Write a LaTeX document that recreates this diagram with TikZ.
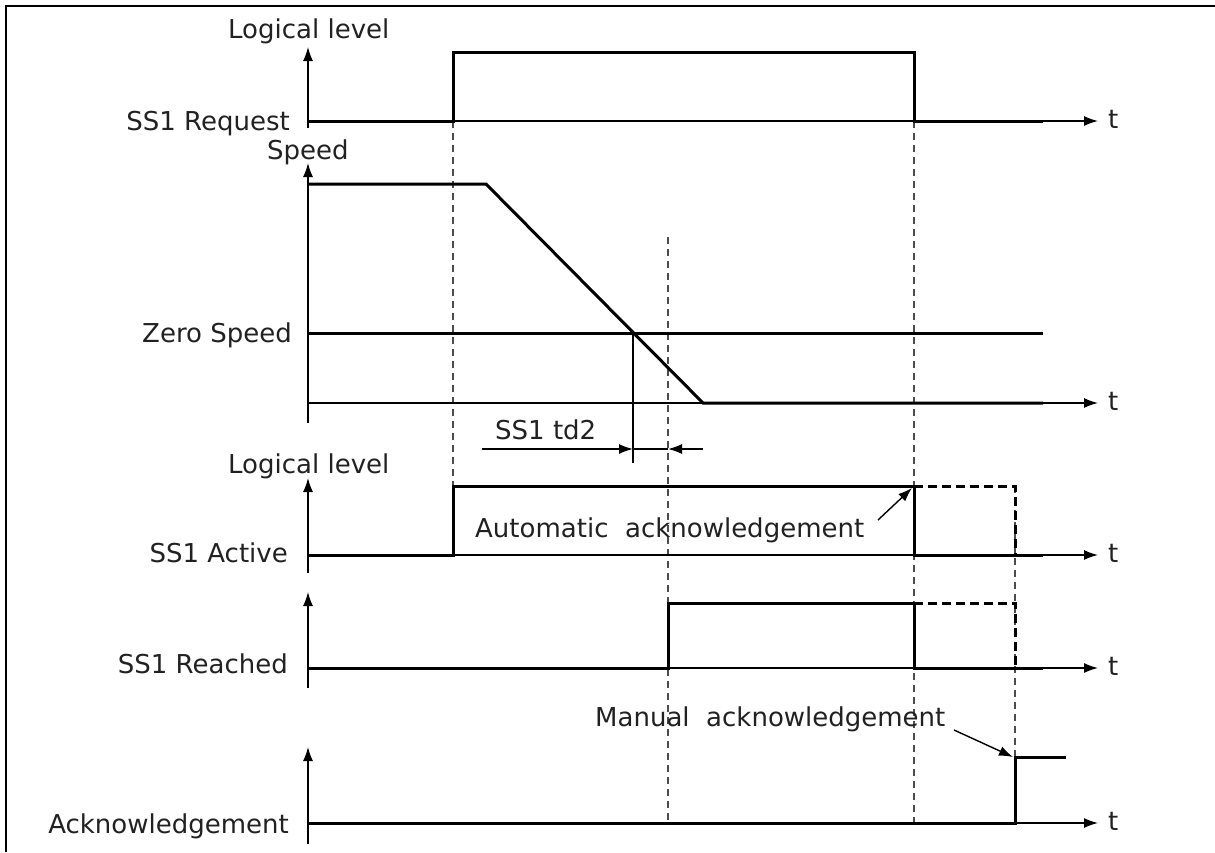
\documentclass[tikz,border=0pt]{standalone}
\usepackage{fontspec}
\setmainfont{DejaVu Sans}
\usetikzlibrary{arrows.meta}
\begin{document}
\begin{tikzpicture}[x=1pt,y=-1pt,
  lbl/.style={font=\fontsize{26}{30}\selectfont, text=black!87, inner sep=0pt},
  sig/.style={line width=3pt},
  ax/.style={line width=1.4pt,-{Latex[length=14pt,width=10pt]}},
  thinln/.style={line width=1.4pt},
  note/.style={line width=1.4pt,-{Latex[length=14pt,width=10pt]}},
  guide/.style={dash pattern=on 7pt off 5pt, line width=1.3pt, black!70},
  ext/.style={line width=3pt, dash pattern=on 9pt off 5pt}
]
\useasboundingbox (0,0) rectangle (1215,852);
\draw[line width=2pt] (6,852) -- (6,6) -- (1215,6);

% guides
\draw[guide] (453,121) -- (453,486);
\draw[guide] (668,237) -- (668,823);
\draw[guide] (914,121) -- (914,823);
\draw[guide] (1015,486) -- (1015,757);

% ---- panel 1: SS1 Request
\draw[ax] (308,128) -- (308,47);
\draw[ax] (308,121) -- (1098,121);
\draw[sig] (308,121) -- (453,121) -- (453,52) -- (914,52) -- (914,121) -- (1043,121);
\node[lbl, anchor=base west] (ll1) at (228,38) {Logical level};
\node[lbl, anchor=base east] (req) at (290,130) {SS1 Request};
\node[lbl, anchor=base west] (t1) at (1108,128) {t};

% ---- panel 2: Speed
\draw[ax] (308,423) -- (308,163);
\draw[ax] (308,403) -- (1098,403);
\draw[sig] (308,184) -- (486,184) -- (703,403) -- (1043,403);
\draw[sig] (308,333) -- (1043,333);
\node[lbl, anchor=base west] (spd) at (267,159) {Speed};
\node[lbl, anchor=base east] (zs) at (292,342) {Zero Speed};
\node[lbl, anchor=base west] (t2) at (1108,410) {t};

% dimension SS1 td2
\coordinate (zc) at (633,333);
\coordinate (zb) at (633,463);
\draw[thinln] (zc) -- (zb);
\coordinate (d1) at (482,449);
\coordinate (d2) at (633,449);
\coordinate (d3) at (668,449);
\coordinate (d4) at (703,449);
\draw[note] (d1) -- (d2);
\draw[thinln] (d2) -- (d3);
\draw[note] (d4) -- (d3);
\node[lbl, anchor=base west] (td2) at (495,439) {SS1 td2};

% ---- panel 3: SS1 Active
\draw[ax] (308,573) -- (308,478);
\draw[ax] (308,555) -- (1098,555);
\draw[sig] (308,555) -- (453,555) -- (453,486) -- (914,486) -- (914,555) -- (1043,555);
\draw[ext] (914,486) -- (1015,486) -- (1015,555);
\node[lbl, anchor=base west] (ll3) at (228,473) {Logical level};
\node[lbl, anchor=base east] (act) at (288,562) {SS1 Active};
\node[lbl, anchor=base west] (t3) at (1108,562) {t};
\node[lbl, anchor=base west] (auto) at (475,537) {Automatic\ \ acknowledgement};
\coordinate (aa1) at (878,520);
\coordinate (aa2) at (912,488);
\draw[note] (aa1) -- (aa2);

% ---- panel 4: SS1 Reached
\draw[ax] (308,688) -- (308,592);
\draw[ax] (308,668) -- (1098,668);
\draw[sig] (308,668) -- (668,668) -- (668,603) -- (914,603) -- (914,668) -- (1043,668);
\draw[ext] (914,603) -- (1015,603) -- (1015,668);
\node[lbl, anchor=base east] (rch) at (288,673) {SS1 Reached};
\node[lbl, anchor=base west] (t4) at (1108,675) {t};

% ---- panel 5: Acknowledgement
\draw[ax] (308,844) -- (308,747);
\draw[ax] (308,823) -- (1098,823);
\draw[sig] (308,823) -- (1015,823) -- (1015,757) -- (1066,757);
\node[lbl, anchor=base east] (ack) at (289,833) {Acknowledgement};
\node[lbl, anchor=base west] (t5) at (1108,830) {t};
\node[lbl, anchor=base west] (man) at (595,726) {Manual\ \ acknowledgement};
\coordinate (ma1) at (954,730);
\coordinate (ma2) at (1013,757);
\draw[note] (ma1) -- (ma2);
\end{tikzpicture}
\end{document}
